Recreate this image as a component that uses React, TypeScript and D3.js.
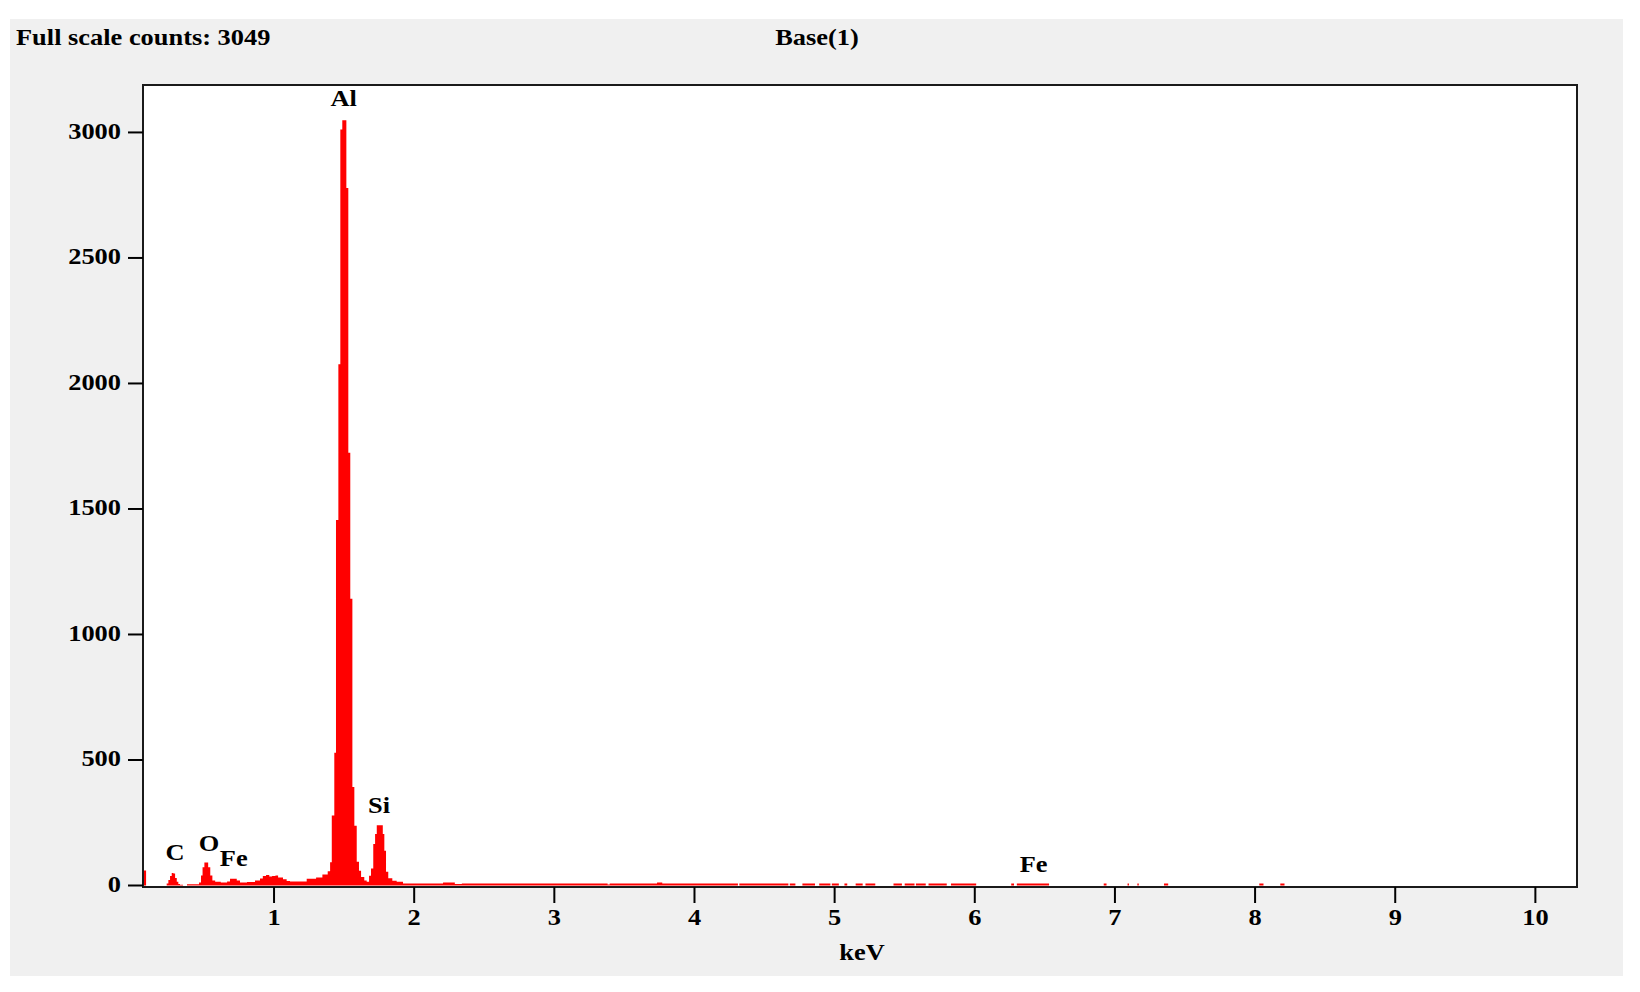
import React from "react";
import * as d3 from "d3";

// ---- data ----
const titleLeft = "Full scale counts: 3049";
const titleCenter = "Base(1)";
const xAxisLabel = "keV";
const xTicks = [1, 2, 3, 4, 5, 6, 7, 8, 9, 10];
const yTicks = [0, 500, 1000, 1500, 2000, 2500, 3000];

// spectrum as steps: [start energy (keV), counts] — each step lasts until the next one starts
const spectrumSteps: [number, number][] = [
  [0.065, 60], [0.087, 0], [0.234, 8], [0.246, 22], [0.258, 38], [0.27, 50], [0.282, 48],
  [0.294, 30], [0.306, 15], [0.317, 6], [0.329, 3], [0.351, 0], [0.379, 5], [0.465, 12],
  [0.479, 40], [0.49, 73], [0.503, 92], [0.53, 73], [0.545, 40], [0.56, 20], [0.58, 15],
  [0.62, 12], [0.665, 16], [0.686, 27], [0.734, 20], [0.757, 12], [0.807, 14], [0.864, 20],
  [0.9, 28], [0.92, 38], [0.943, 42], [0.966, 36], [0.986, 38], [1.01, 40], [1.029, 32],
  [1.064, 25], [1.09, 18], [1.114, 16], [1.233, 27], [1.3, 32], [1.345, 44], [1.383, 57],
  [1.4, 93], [1.412, 279], [1.43, 529], [1.442, 1456], [1.459, 2077], [1.473, 3012],
  [1.487, 3049], [1.516, 2779], [1.53, 1724], [1.544, 1142], [1.559, 392], [1.573, 238],
  [1.59, 95], [1.606, 59], [1.621, 34], [1.644, 20], [1.661, 15], [1.678, 39], [1.692, 68],
  [1.708, 165], [1.721, 205], [1.733, 240], [1.776, 205], [1.787, 138], [1.799, 55],
  [1.815, 29], [1.844, 19], [1.875, 15], [1.92, 8], [2.206, 12], [2.29, 6], [2.34, 8],
  [3.38, 4], [3.395, 8], [3.733, 12], [3.77, 8], [4.31, 0], [4.32, 8], [4.67, 0], [4.68, 8],
  [4.72, 0], [4.77, 8], [4.86, 0], [4.89, 8], [4.97, 0], [4.98, 8], [5.03, 0], [5.07, 8],
  [5.09, 0], [5.15, 8], [5.2, 0], [5.22, 8], [5.29, 0], [5.42, 8], [5.48, 0], [5.5, 8],
  [5.57, 0], [5.58, 8], [5.65, 0], [5.67, 8], [5.8, 0], [5.83, 8], [6.01, 0], [6.26, 8],
  [6.28, 0], [6.3, 8], [6.53, 0], [6.92, 8], [6.94, 0], [7.09, 8], [7.1, 0], [7.16, 8],
  [7.17, 0], [7.35, 8], [7.38, 0], [8.03, 8], [8.06, 0], [8.18, 8], [8.21, 0],
];

// element labels: [label, energy keV, count level of text baseline]
const peakLabels: [string, number, number][] = [
  ["C", 0.294, 101],
  ["O", 0.536, 136],
  ["Fe", 0.712, 76],
  ["Al", 1.497, 3104],
  ["Si", 1.749, 287],
  ["Fe", 6.42, 54],
];

const X_MIN = 0.065;
const X_MAX = 10.297;
const Y_MAX = 3189;

// ---- layout ----
const W = 1640;
const H = 992;
const frame = { left: 143, right: 1577, top: 85, bottom: 887 };
const zeroY = 885.5;
const FONT = "'Liberation Serif', 'Times New Roman', serif";
const SX = 1.1;

function T({ x, y, anchor = "start", size = 24, children }: any) {
  return (
    <text
      transform={`translate(${x},${y}) scale(${SX},1)`}
      textAnchor={anchor}
      fontFamily={FONT}
      fontWeight="bold"
      fontSize={size}
      fill="#000"
    >
      {children}
    </text>
  );
}

export default function App() {
  const x = d3.scaleLinear().domain([X_MIN, X_MAX]).range([frame.left, frame.right]);
  const y = d3.scaleLinear().domain([0, Y_MAX]).range([zeroY, frame.top]);

  const pts: [number, number][] = [...spectrumSteps, [X_MAX, spectrumSteps[spectrumSteps.length - 1][1]]];
  const area = d3
    .area<[number, number]>()
    .x((d) => x(d[0]))
    .y0(zeroY)
    .y1((d) => y(d[1]))
    .curve(d3.curveStepAfter);

  return (
    <svg width={W} height={H} style={{ position: "absolute", left: 0, top: 0 }}>
      <rect x={0} y={0} width={W} height={H} fill="#fff" />
      <rect x={10} y={19} width={1613} height={957} fill="#f0f0f0" />
      <rect
        x={frame.left}
        y={frame.top}
        width={frame.right - frame.left}
        height={frame.bottom - frame.top}
        fill="#fff"
      />
      <path d={area(pts) || ""} fill="#ff0000" />
      <rect
        x={frame.left}
        y={frame.top}
        width={frame.right - frame.left}
        height={frame.bottom - frame.top}
        fill="none"
        stroke="#1a1a1a"
        strokeWidth={2}
      />
      {/* y ticks */}
      {yTicks.map((t) => (
        <g key={"y" + t}>
          <line x1={128} x2={frame.left} y1={y(t)} y2={y(t)} stroke="#000" strokeWidth={2} />
          <T x={121} y={y(t) + 6.5} anchor="end">
            {t}
          </T>
        </g>
      ))}
      {/* x ticks */}
      {xTicks.map((t) => (
        <g key={"x" + t}>
          <line x1={x(t)} x2={x(t)} y1={frame.bottom} y2={903} stroke="#000" strokeWidth={2} />
          <T x={x(t)} y={925} anchor="middle">
            {t}
          </T>
        </g>
      ))}
      <T x={(frame.left + frame.right) / 2 + 2} y={960} anchor="middle">
        {xAxisLabel}
      </T>
      <T x={16} y={45}>
        {titleLeft}
      </T>
      <T x={817} y={45} anchor="middle">
        {titleCenter}
      </T>
      {peakLabels.map(([lab, e, c], i) => (
        <T key={"p" + i} x={x(e)} y={y(c)} anchor="middle">
          {lab}
        </T>
      ))}
    </svg>
  );
}
